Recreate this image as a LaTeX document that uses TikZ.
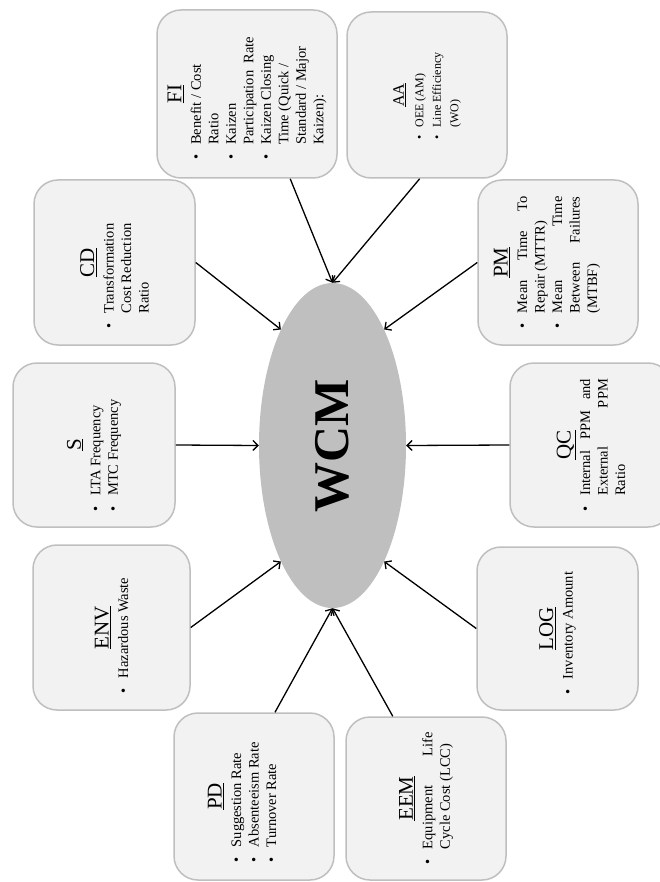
\documentclass[tikz,border=0pt]{standalone}
\usepackage{fontspec}
\setmainfont{Liberation Serif}
\usepackage{graphicx}
\usetikzlibrary{arrows.meta,shapes.geometric}

\newcommand{\kpi}[1]{\par\noindent\hangindent=1.05em\hangafter=1\makebox[1.05em][l]{\textbullet}#1}
\newcommand{\pillar}[5]{\rotatebox{90}{\begin{minipage}{#1}
    {\centering\fontsize{#2}{#2}\selectfont\underline{#4}\par}\vspace{2pt}
    \fontsize{#3}{17.5}\selectfont #5
    \end{minipage}}}

\begin{document}
\begin{tikzpicture}[x=1pt, y=-1pt,
    box/.style={draw=black!25, line width=1.5pt, fill=black!5, rounded corners=24pt, inner sep=0pt},
    link/.style={-{Straight Barb[length=5pt,width=10pt]}, line width=1.3pt}]
    \useasboundingbox (0,0) rectangle (660,882);
    \clip (0,0) rectangle (660,882);
    \node [ellipse, fill=black!25, minimum width=147pt, minimum height=325pt, inner sep=0pt] (wcm) at (332.5,445.5)
        {\rotatebox{90}{\fontsize{50}{50}\selectfont\bfseries WCM}};
    \node [box, minimum width=180pt, minimum height=168pt] (fi) at (247,94)
        {\pillar{132pt}{21}{14.5}{FI}{\kpi{Benefit / Cost\\ Ratio}\kpi{Kaizen\\ Participation\ \ Rate}\kpi{Kaizen Closing\\ Time (Quick /\\ Standard / Major\\ Kaizen):}}};
    \node [box, minimum width=160pt, minimum height=166pt] (aa) at (427,95)
        {\pillar{90pt}{16}{12}{AA}{\kpi{OEE (AM)}\kpi{Line Efficiency\\ (WO)}}};
    \node [box, minimum width=161pt, minimum height=165pt] (cd) at (114.5,262.5)
        {\pillar{132pt}{21}{14.5}{CD}{\kpi{Transformation\\ Cost Reduction\\ Ratio}}};
    \node [box, minimum width=160pt, minimum height=165pt] (pm) at (558,262.5)
        {\pillar{132pt}{21}{14.5}{PM}{\kpi{Mean\hfill Time\hfill To\\ Repair (MTTR)}\kpi{Mean\hfill Time\\ Between\hfill Failures\\ (MTBF)}\par\kern22pt}};
    \node [box, minimum width=162pt, minimum height=164pt] (s) at (94,445)
        {\pillar{132pt}{21}{14.5}{S}{\kpi{LTA Frequency}\kpi{MTC Frequency}}};
    \node [box, minimum width=162pt, minimum height=164pt] (qc) at (591,445)
        {\pillar{132pt}{21}{14.5}{QC}{\kpi{Internal\hfill PPM\hfill and\\ External\hfill PPM\\ Ratio}}};
    \node [box, minimum width=157pt, minimum height=165pt] (env) at (111.5,627.5)
        {\pillar{132pt}{21}{14.5}{ENV}{\kpi{Hazardous Waste}}};
    \node [box, minimum width=161pt, minimum height=163pt] (log) at (557.5,628.5)
        {\pillar{132pt}{21}{14.5}{LOG}{\kpi{Inventory Amount}}};
    \node [box, minimum width=160pt, minimum height=167pt] (pd) at (254,796.5)
        {\pillar{132pt}{21}{14.5}{PD}{\kpi{Suggestion Rate}\kpi{Absenteeism Rate}\kpi{Turnover Rate}\par\kern24pt}};
    \node [box, minimum width=160pt, minimum height=163pt] (eem) at (426,798.5)
        {\pillar{132pt}{21}{14.5}{EEM}{\kpi{Equipment\hfill Life\\ Cycle Cost (LCC)}}};
    \draw [link] (fi.-63) -- (wcm.north);
    \draw [link] (aa.-95) -- (wcm.north);
    \draw [link] (cd.east) -- (wcm.114);
    \draw [link] (pm.west) -- (wcm.66);
    \draw [link] (s.east) -- (wcm.west);
    \draw [link] (qc.west) -- (wcm.east);
    \draw [link] (env.east) -- (wcm.246);
    \draw [link] (log.west) -- (wcm.294);
    \draw [link] (pd.76) -- (wcm.south);
    \draw [link] (eem.112) -- (wcm.south);
\end{tikzpicture}
\end{document}
